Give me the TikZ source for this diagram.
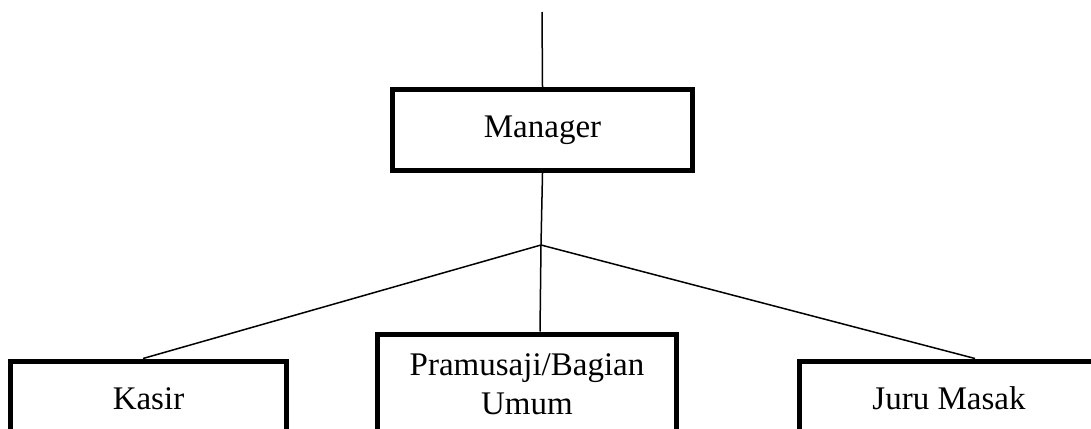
\documentclass[tikz,border=0pt]{standalone}
\usepackage{fontspec}
\setmainfont{Liberation Serif}
\begin{document}
\begin{tikzpicture}[x=0.5pt,y=-0.5pt,line width=0.75pt,
  kotak/.style={draw,line width=2.6pt,inner sep=0pt,font=\fontsize{16.5}{19.5}\selectfont}]
  \useasboundingbox (0,0) rectangle (1091,428);
  \clip (0,0) rectangle (1091,428);
  % manager
  \node[kotak,minimum width=150pt,minimum height=40.5pt] (manager) at (542.5,130) {Manager};
  \coordinate (atas) at (542,12);
  \coordinate (cabang) at (541,245);
  % bawahan
  \node[kotak,anchor=north,minimum width=138pt,text height=24.25pt,text depth=40pt] (kasir) at (148.5,358.5) {Kasir};
  \node[kotak,anchor=north,minimum width=149.5pt,text height=20.75pt,text depth=60pt] (pramusaji) at (527,331.5)
    {\begin{tabular}[t]{@{}c@{}}Pramusaji/Bagian\\Umum\end{tabular}};
  \node[kotak,anchor=north,minimum width=149.5pt,text height=24.25pt,text depth=40pt] (juru) at (949,358.5) {Juru Masak};
  % garis
  \draw (atas) -- (manager.north);
  \draw (manager.south) -- (cabang);
  \draw (cabang) -- ([xshift=-2.75pt]kasir.north);
  \draw (cabang) -- ([xshift=6.5pt]pramusaji.north);
  \draw (cabang) -- ([xshift=13pt]juru.north);
\end{tikzpicture}
\end{document}
